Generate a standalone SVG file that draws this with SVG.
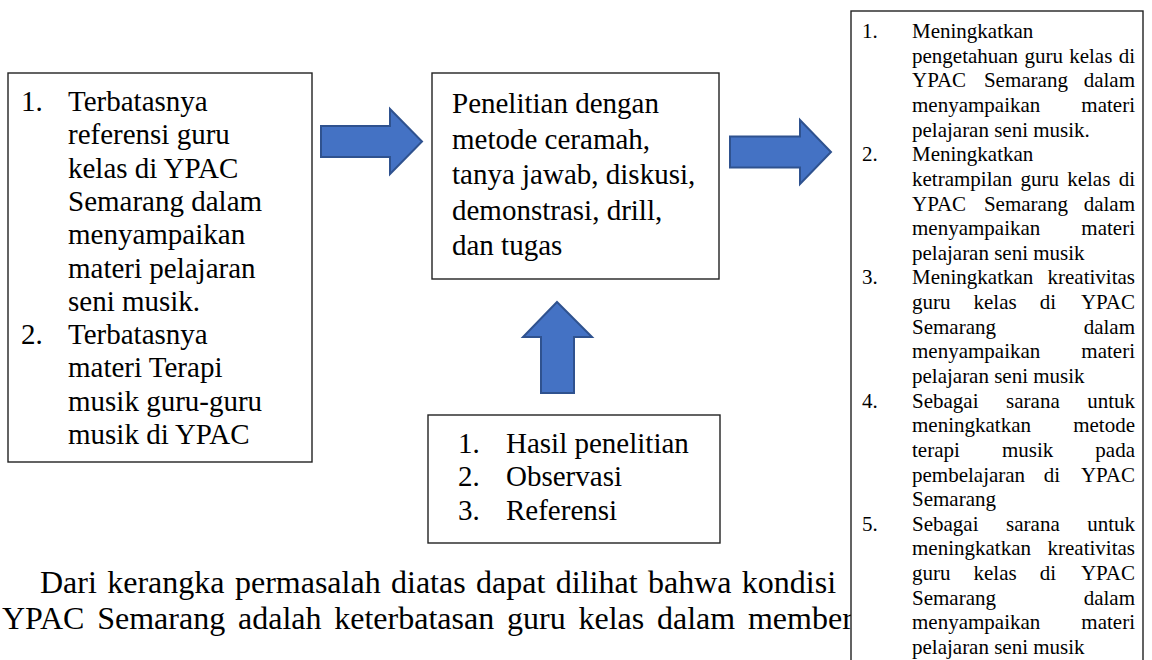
<svg xmlns="http://www.w3.org/2000/svg" width="1152" height="660" viewBox="0 0 1152 660">
<style>
text{font-family:"Liberation Serif","Times New Roman",serif;fill:#000}
.t{font-size:29px}
.s{font-size:21px}
.p{font-size:32px}
.e{text-anchor:end}
.m{text-anchor:middle}
.box{fill:#fff;stroke:#222;stroke-width:1.4}
.arr{fill:#4472C4;stroke:#2F528F;stroke-width:2;stroke-linejoin:miter}
</style>
<rect width="1152" height="660" fill="#fff"/>
<g id="paragraph">
<text class="p" x="40" y="593" word-spacing="2.4">Dari kerangka permasalah diatas dapat dilihat bahwa kondisi</text>
<text class="p" x="2" y="629" word-spacing="4.8">YPAC Semarang adalah keterbatasan guru kelas dalam member</text>
</g>
<g id="connectors">
<polygon class="arr" points="321,126 390,126 390,109 422,141.5 390,174 390,157 321,157"/>
<polygon class="arr" points="730,136.5 800,136.5 800,120 831,152 800,184 800,167.5 730,167.5"/>
<polygon class="arr" points="557,302 592,337 574,337 574,393 541,393 541,337 523,337"/>
</g>
<g id="problems">
<rect class="box" x="8" y="73" width="304" height="389"/>
<text class="t" x="21" y="111">1.</text>
<text class="t" x="68" y="111">Terbatasnya</text>
<text class="t" x="68" y="144.3">referensi guru</text>
<text class="t" x="68" y="177.6">kelas di YPAC</text>
<text class="t" x="68" y="210.9">Semarang dalam</text>
<text class="t" x="68" y="244.2">menyampaikan</text>
<text class="t" x="68" y="277.5">materi pelajaran</text>
<text class="t" x="68" y="310.8">seni musik.</text>
<text class="t" x="21" y="344.1">2.</text>
<text class="t" x="68" y="344.1">Terbatasnya</text>
<text class="t" x="68" y="377.4">materi Terapi</text>
<text class="t" x="68" y="410.7">musik guru-guru</text>
<text class="t" x="68" y="444">musik di YPAC</text>
</g>
<g id="method">
<rect class="box" x="432" y="73" width="287" height="206"/>
<text class="t" x="452" y="113">Penelitian dengan</text>
<text class="t" x="452" y="148.5">metode ceramah,</text>
<text class="t" x="452" y="184">tanya jawab, diskusi,</text>
<text class="t" x="452" y="219.5">demonstrasi, drill,</text>
<text class="t" x="452" y="255">dan tugas</text>
</g>
<g id="sources">
<rect class="box" x="428" y="415" width="292" height="128"/>
<text class="t" x="458" y="453">1.</text>
<text class="t" x="506" y="453">Hasil penelitian</text>
<text class="t" x="458" y="486.3">2.</text>
<text class="t" x="506" y="486.3">Observasi</text>
<text class="t" x="458" y="519.6">3.</text>
<text class="t" x="506" y="519.6">Referensi</text>
</g>
<g id="outcomes">
<rect class="box" x="851" y="11" width="292" height="700"/>
<text class="s" x="862" y="38">1.</text>
<text class="s" x="912" y="38">Meningkatkan</text>
<text class="s" x="912" y="62.6">pengetahuan</text><text class="s" x="1024.4" y="62.6">guru</text><text class="s" x="1069.2" y="62.6">kelas</text><text class="s e" x="1135" y="62.6">di</text>
<text class="s" x="912" y="87.3">YPAC</text><text class="s m" x="1025.9" y="87.3">Semarang</text><text class="s e" x="1135" y="87.3">dalam</text>
<text class="s" x="912" y="111.9">menyampaikan</text><text class="s e" x="1135" y="111.9">materi</text>
<text class="s" x="912" y="136.6">pelajaran seni musik.</text>
<text class="s" x="862" y="161.2">2.</text>
<text class="s" x="912" y="161.2">Meningkatkan</text>
<text class="s" x="912" y="185.8">ketrampilan</text><text class="s" x="1020.5" y="185.8">guru</text><text class="s" x="1067.2" y="185.8">kelas</text><text class="s e" x="1135" y="185.8">di</text>
<text class="s" x="912" y="210.5">YPAC</text><text class="s m" x="1025.9" y="210.5">Semarang</text><text class="s e" x="1135" y="210.5">dalam</text>
<text class="s" x="912" y="235.1">menyampaikan</text><text class="s e" x="1135" y="235.1">materi</text>
<text class="s" x="912" y="259.8">pelajaran seni musik</text>
<text class="s" x="862" y="284.4">3.</text>
<text class="s" x="912" y="284.4">Meningkatkan</text><text class="s e" x="1135" y="284.4">kreativitas</text>
<text class="s" x="912" y="309">guru</text><text class="s" x="973.5" y="309">kelas</text><text class="s" x="1039.7" y="309">di</text><text class="s e" x="1135" y="309">YPAC</text>
<text class="s" x="912" y="333.7">Semarang</text><text class="s e" x="1135" y="333.7">dalam</text>
<text class="s" x="912" y="358.3">menyampaikan</text><text class="s e" x="1135" y="358.3">materi</text>
<text class="s" x="912" y="383">pelajaran seni musik</text>
<text class="s" x="862" y="407.6">4.</text>
<text class="s" x="912" y="407.6">Sebagai</text><text class="s m" x="1032.9" y="407.6">sarana</text><text class="s e" x="1135" y="407.6">untuk</text>
<text class="s" x="912" y="432.2">meningkatkan</text><text class="s e" x="1135" y="432.2">metode</text>
<text class="s" x="912" y="456.9">terapi</text><text class="s m" x="1027.6" y="456.9">musik</text><text class="s e" x="1135" y="456.9">pada</text>
<text class="s" x="912" y="481.5">pembelajaran</text><text class="s m" x="1052" y="481.5">di</text><text class="s e" x="1135" y="481.5">YPAC</text>
<text class="s" x="912" y="506.2">Semarang</text>
<text class="s" x="862" y="530.8">5.</text>
<text class="s" x="912" y="530.8">Sebagai</text><text class="s m" x="1032.9" y="530.8">sarana</text><text class="s e" x="1135" y="530.8">untuk</text>
<text class="s" x="912" y="555.4">meningkatkan</text><text class="s e" x="1135" y="555.4">kreativitas</text>
<text class="s" x="912" y="580.1">guru</text><text class="s" x="973.5" y="580.1">kelas</text><text class="s" x="1039.7" y="580.1">di</text><text class="s e" x="1135" y="580.1">YPAC</text>
<text class="s" x="912" y="604.7">Semarang</text><text class="s e" x="1135" y="604.7">dalam</text>
<text class="s" x="912" y="629.4">menyampaikan</text><text class="s e" x="1135" y="629.4">materi</text>
<text class="s" x="912" y="654">pelajaran seni musik</text>
</g>
</svg>
